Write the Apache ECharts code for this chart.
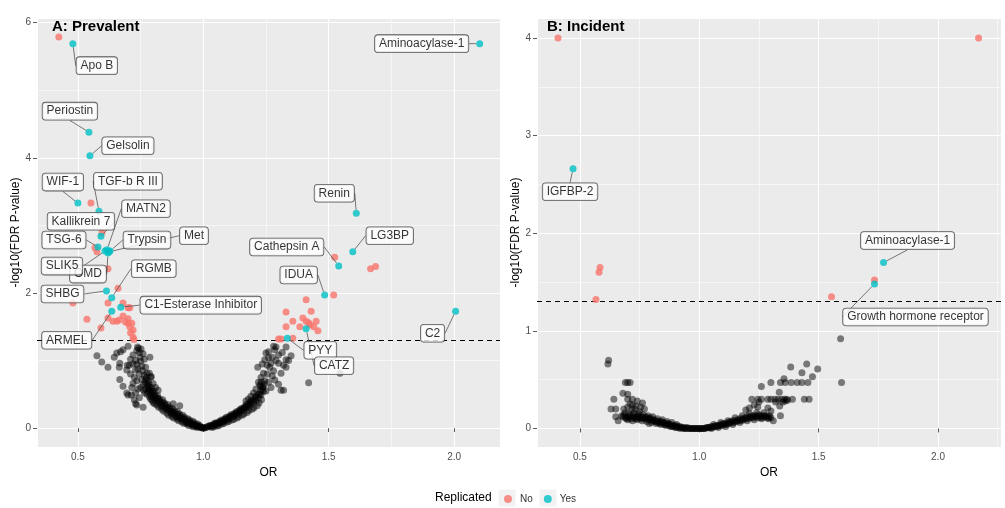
<!DOCTYPE html>
<html><head><meta charset="utf-8">
<script src="https://cdn.jsdelivr.net/npm/echarts/dist/echarts.min.js"></script>
<style>html,body{margin:0;padding:0;background:#fff}#c{width:1005px;height:508px}</style>
</head><body><div id="c"></div><script>
// ---------- Panel A: Prevalent ----------
const aNotSig = [
[1.0,0.0],[0.99,0.01],[0.98,0.02],[0.97,0.04],[0.96,0.05],[0.95,0.06],[0.94,0.08],[0.93,0.1],[0.92,0.12],[0.91,0.14],[0.9,0.16],[0.89,0.19],[0.88,0.21],[0.87,0.24],[0.86,0.27],[0.85,0.3],[0.84,0.33],[0.83,0.36],[0.82,0.39],[0.81,0.42],[0.8,0.46],[0.79,0.5],[0.78,0.54],[0.77,0.58],
[0.985,0.04],[0.965,0.08],[0.945,0.12],[0.925,0.16],[0.905,0.21],[0.885,0.26],[0.865,0.31],[0.845,0.37],[0.825,0.43],[0.805,0.5],[0.795,0.55],[0.785,0.61],
[0.975,0.01],[0.955,0.03],[0.935,0.06],[0.915,0.09],[0.895,0.13],[0.875,0.17],[0.855,0.22],[0.835,0.28],[0.815,0.34],[0.8,0.38],[0.79,0.43],
[0.995,0.0],[0.972,0.03],[0.952,0.07],[0.932,0.08],[0.912,0.15],[0.892,0.17],[0.872,0.22],[0.852,0.28],[0.832,0.32],[0.812,0.45],[0.792,0.47],[0.782,0.58],
[0.998,0.01],[0.988,0.02],[0.978,0.03],[0.968,0.05],[0.958,0.06],[0.948,0.09],[0.938,0.1],[0.928,0.13],[0.918,0.15],[0.908,0.18],[0.898,0.2],[0.888,0.23],[0.878,0.25],[0.868,0.28],[0.858,0.31],[0.848,0.34],[0.838,0.38],[0.828,0.4],[0.818,0.44],[0.808,0.47],[0.798,0.52],[0.788,0.56],[0.778,0.62],[0.768,0.68],
[0.962,0.02],[0.942,0.04],[0.922,0.07],[0.902,0.11],[0.882,0.15],[0.862,0.19],[0.842,0.25],[0.822,0.31],[0.806,0.36],[0.796,0.41],[0.786,0.46],[0.776,0.5],[0.766,0.52],
[0.978,0.06],[0.958,0.1],[0.938,0.14],[0.918,0.19],[0.898,0.24],[0.878,0.29],[0.858,0.35],[0.838,0.42],[0.818,0.48],[0.803,0.55],[0.793,0.6],[0.783,0.66],[0.773,0.75],
[0.775,0.66],[0.77,0.72],[0.765,0.78],[0.76,0.64],[0.758,0.85],[0.755,0.92],[0.75,0.99],[0.748,1.05],[0.745,1.12],[0.742,1.18],[0.738,1.2],[0.735,1.15],[0.752,1.17],[0.76,1.1],[0.765,1.02],[0.735,0.95],[0.74,0.88],[0.745,0.8],[0.73,0.86],[0.725,0.75],[0.735,0.7],[0.72,0.66],[0.73,1.0],[0.72,1.08],[0.755,0.72],[0.78,0.7],[0.785,0.81],[0.77,0.9],[0.762,0.56],[0.75,0.6],[0.74,0.58],[0.73,0.52],[0.715,0.6],[0.71,0.8],[0.705,0.93],[0.7,1.21],[0.695,0.86],[0.697,0.93],[0.68,1.16],[0.67,1.13],[0.655,1.11],[0.645,1.05],[0.62,0.9],[0.595,0.98],[0.576,1.07],[0.667,0.96],[0.665,0.9],[0.667,0.72],[0.695,0.52],[0.713,0.49],[0.7,0.49],[0.73,0.36],[0.735,0.34],[0.76,0.31],[0.787,1.05],[0.775,0.81],[0.79,0.76],[0.793,0.76],[0.88,0.36],[0.906,0.33],[0.82,0.56],[0.81,0.6],[0.8,0.66],[0.72,0.95],[0.71,1.02],[0.745,0.45],[0.725,0.42],[0.68,0.62],
[1.01,0.01],[1.02,0.02],[1.03,0.03],[1.04,0.04],[1.05,0.05],[1.06,0.07],[1.07,0.08],[1.08,0.1],[1.09,0.12],[1.1,0.14],[1.11,0.16],[1.12,0.18],[1.13,0.2],[1.14,0.22],[1.15,0.25],[1.16,0.27],[1.17,0.3],[1.18,0.32],[1.19,0.35],[1.2,0.38],[1.21,0.41],[1.22,0.45],[1.23,0.49],[1.24,0.54],
[1.025,0.04],[1.045,0.07],[1.065,0.1],[1.085,0.14],[1.105,0.18],[1.125,0.22],[1.145,0.27],[1.165,0.32],[1.185,0.37],[1.205,0.43],[1.225,0.5],[1.235,0.57],
[1.035,0.01],[1.055,0.03],[1.075,0.06],[1.095,0.09],[1.115,0.12],[1.135,0.15],[1.155,0.19],[1.175,0.23],[1.195,0.28],[1.215,0.33],
[1.005,0.0],[1.015,0.02],[1.028,0.03],[1.038,0.05],[1.048,0.06],[1.058,0.07],[1.068,0.09],[1.078,0.11],[1.088,0.13],[1.098,0.15],[1.108,0.17],[1.118,0.19],[1.128,0.21],[1.138,0.24],[1.148,0.26],[1.158,0.29],[1.168,0.31],[1.178,0.34],[1.188,0.38],[1.198,0.41],[1.208,0.46],[1.218,0.5],[1.228,0.55],[1.238,0.6],[1.243,0.65],
[1.042,0.02],[1.062,0.04],[1.082,0.07],[1.102,0.1],[1.122,0.13],[1.142,0.17],[1.162,0.21],[1.182,0.26],[1.202,0.3],[1.222,0.37],[1.232,0.42],
[1.052,0.08],[1.072,0.12],[1.092,0.16],[1.112,0.2],[1.132,0.24],[1.152,0.29],[1.172,0.35],[1.192,0.41],[1.212,0.48],[1.228,0.62],[1.232,0.68],
[1.225,0.64],[1.237,0.61],[1.24,0.81],[1.245,0.7],[1.25,1.11],[1.245,1.01],[1.26,1.13],[1.265,0.9],[1.27,0.96],[1.275,1.05],[1.28,1.21],[1.285,1.16],[1.29,1.2],[1.3,1.08],[1.3,0.96],[1.31,0.81],[1.32,0.93],[1.33,1.01],[1.33,0.9],[1.33,1.2],[1.34,1.0],[1.35,1.07],[1.32,0.56],[1.31,0.56],[1.285,0.71],[1.217,0.9],[1.23,0.75],[1.255,0.8],[1.26,0.68],[1.27,0.6],[1.25,0.55],[1.42,0.67],[1.545,0.81],[1.28,0.85],[1.29,1.0],[1.26,1.04],[1.2,0.52],[1.21,0.58],[1.315,1.12],[1.275,0.77],[1.3,0.65],[1.19,0.47],[1.18,0.43],[1.17,0.4],[1.22,0.68],[1.235,0.95],[1.255,0.93]
];
const aNo = [
[0.424,5.79],[0.552,3.33],[0.596,2.89],[0.568,2.67],[0.576,2.61],[0.62,2.36],[0.66,2.07],[0.48,1.85],[0.62,1.85],[0.68,1.85],[0.70,1.78],[0.707,1.78],[0.536,1.61],[0.592,1.48],[0.62,1.63],[0.64,1.58],[0.655,1.58],[0.68,1.66],[0.69,1.57],[0.70,1.55],[0.715,1.55],[0.707,1.5],[0.72,1.45],[0.71,1.41],[0.72,1.35],[0.723,1.31],[0.70,1.62],[0.665,1.6],
[1.524,2.53],[1.667,2.36],[1.687,2.39],[1.52,1.97],[1.41,1.9],[1.33,1.72],[1.43,1.73],[1.357,1.58],[1.397,1.63],[1.41,1.58],[1.45,1.58],[1.33,1.5],[1.385,1.5],[1.425,1.53],[1.44,1.5],[1.457,1.44],[1.30,1.32],[1.31,1.32],[1.357,1.33],[1.42,1.56]
];
const aYesNames = ['Aminoacylase-1','Apo B','Periostin','Gelsolin','WIF-1','TGF-b R III','Kallikrein 7','TSG-6','MATN2','OMD','SLIK5','Trypsin','Met','SHBG','RGMB','C1-Esterase Inhibitor','ARMEL','Renin','LG3BP','Cathepsin A','IDUA','C2','PYY','CATZ'];
const aYes = [[2.102,5.69],[0.48,5.69],[0.544,4.38],[0.548,4.03],[0.5,3.33],[0.584,3.21],[0.592,2.84],[0.58,2.68],[0.616,2.64],[0.62,2.59],[0.608,2.62],[0.628,2.62],[0.624,2.61],[0.614,2.03],[0.635,1.93],[0.671,1.79],[0.635,1.73],[1.61,3.18],[1.596,2.61],[1.54,2.4],[1.484,1.97],[2.006,1.73],[1.335,1.33],[1.41,1.47]];

// ---------- Panel B: Incident ----------
const bNotSig = [
[0.68,0.12],[0.69,0.11],[0.7,0.12],[0.71,0.13],[0.72,0.12],[0.73,0.11],[0.74,0.12],[0.75,0.11],[0.76,0.12],[0.77,0.1],[0.78,0.11],[0.79,0.1],[0.8,0.09],[0.81,0.09],[0.82,0.08],[0.83,0.07],[0.84,0.07],[0.85,0.06],[0.86,0.05],[0.87,0.05],[0.88,0.04],[0.89,0.03],[0.9,0.03],[0.91,0.02],[0.92,0.02],[0.93,0.01],[0.94,0.01],[0.95,0.01],[0.96,0.0],[0.97,0.0],[0.98,0.0],[0.99,0.0],[1.0,0.0],
[0.7,0.09],[0.72,0.08],[0.74,0.09],[0.76,0.08],[0.78,0.07],[0.8,0.06],[0.82,0.05],[0.84,0.04],[0.86,0.03],[0.88,0.02],[0.9,0.01],[0.92,0.0],[0.94,0.0],
[0.705,0.15],[0.725,0.16],[0.745,0.15],[0.765,0.14],[0.785,0.13],[0.805,0.12],[0.825,0.1],[0.845,0.09],[0.865,0.07],[0.885,0.06],[0.905,0.04],
[0.675,0.13],[0.685,0.14],[0.695,0.1],[0.705,0.11],[0.715,0.1],[0.725,0.13],[0.735,0.1],[0.745,0.13],[0.755,0.1],[0.765,0.11],[0.775,0.12],[0.785,0.09],[0.795,0.11],[0.805,0.08],[0.815,0.07],[0.825,0.06],[0.835,0.05],[0.845,0.06],[0.855,0.04],[0.865,0.04],[0.875,0.03],[0.885,0.02],[0.895,0.02],[0.905,0.01],[0.915,0.01],[0.925,0.01],[0.935,0.0],[0.945,0.0],[0.955,0.0],[0.965,0.0],[0.975,0.0],[0.985,0.0],[0.995,0.0],
[0.62,0.70],[0.617,0.66],[0.69,0.47],[0.7,0.47],[0.71,0.47],[0.68,0.36],[0.7,0.35],[0.642,0.30],[0.70,0.30],[0.74,0.28],[0.762,0.26],[0.63,0.2],[0.65,0.2],[0.684,0.2],[0.717,0.19],[0.77,0.2],[0.65,0.12],[0.66,0.08],[0.79,0.05],[0.72,0.24],[0.73,0.2],[0.75,0.17],[0.69,0.16],[0.72,0.3],[0.735,0.23],[0.755,0.22],[0.7,0.22],[0.71,0.25],
[1.01,0.0],[1.02,0.0],[1.03,0.01],[1.04,0.01],[1.05,0.02],[1.06,0.02],[1.07,0.03],[1.08,0.03],[1.09,0.04],[1.1,0.05],[1.11,0.05],[1.12,0.06],[1.13,0.07],[1.14,0.08],[1.15,0.08],[1.16,0.09],[1.17,0.1],[1.18,0.1],[1.19,0.11],[1.2,0.12],[1.21,0.12],[1.22,0.13],[1.23,0.13],[1.24,0.13],[1.25,0.14],[1.26,0.13],[1.27,0.13],[1.28,0.13],[1.29,0.12],
[1.05,0.0],[1.08,0.01],[1.11,0.02],[1.14,0.04],[1.17,0.06],[1.2,0.08],[1.23,0.09],[1.26,0.1],[1.29,0.1],
[1.06,0.04],[1.09,0.06],[1.12,0.08],[1.15,0.11],[1.18,0.13],[1.21,0.15],[1.24,0.16],[1.27,0.16],
[1.005,0.0],[1.015,0.0],[1.025,0.0],[1.035,0.01],[1.045,0.01],[1.055,0.01],[1.065,0.02],[1.075,0.02],[1.085,0.03],[1.095,0.03],[1.105,0.04],[1.115,0.04],[1.125,0.05],[1.135,0.06],[1.145,0.06],[1.155,0.07],[1.165,0.08],[1.175,0.08],[1.185,0.09],[1.195,0.1],[1.205,0.1],[1.215,0.11],[1.225,0.11],[1.235,0.12],[1.245,0.11],[1.255,0.12],[1.265,0.11],[1.275,0.12],[1.285,0.11],[1.295,0.13],[1.3,0.11],
[1.592,0.92],[1.596,0.47],[1.496,0.61],[1.474,0.53],[1.45,0.66],[1.43,0.57],[1.383,0.63],[1.355,0.51],[1.3,0.47],[1.34,0.47],[1.36,0.47],[1.385,0.47],[1.41,0.47],[1.43,0.47],[1.455,0.47],[1.26,0.43],[1.22,0.3],[1.245,0.3],[1.26,0.3],[1.287,0.3],[1.3,0.3],[1.317,0.3],[1.33,0.3],[1.345,0.3],[1.357,0.3],[1.366,0.3],[1.39,0.3],[1.44,0.3],[1.46,0.3],[1.337,0.23],[1.21,0.21],[1.245,0.22],[1.287,0.21],[1.34,0.13],[1.31,0.08],[1.195,0.19],[1.35,0.27],[1.36,0.28],[1.37,0.29],[1.25,0.27],[1.23,0.24],[1.3,0.18],[1.32,0.27],[1.335,0.37]
];
const bNo = [[0.408,4.0],[2.17,4.0],[0.584,1.65],[0.58,1.6],[0.567,1.32],[1.554,1.35],[1.734,1.52]];
const bYesNames = ['IGFBP-2','Aminoacylase-1','Growth hormone receptor'];
const bYes = [[0.471,2.66],[1.772,1.70],[1.734,1.48]];

const fdrThreshold = 1.301;
const aMinorX = [0.75,1.25,1.75], aMinorY = [1,3,5];
const bMinorX = [0.75,1.25,1.75,2.25], bMinorY = [0.5,1.5,2.5,3.5];

// label placement (pixel offsets of label centre from its point)
const aLabelOffsets = {'Aminoacylase-1':[-58,0],'Apo B':[24,22],'Periostin':[-19,-21],'Gelsolin':[38,-10],'WIF-1':[-15,-21],'TGF-b R III':[29,-30],'Kallikrein 7':[-20,-15],'MATN2':[39,-41],'TSG-6':[-34,-7],'Trypsin':[37,-11],'Met':[85,-16],'SLIK5':[-43,15],'OMD':[-20,21],'RGMB':[42,-29],'SHBG':[-44,3],'C1-Esterase Inhibitor':[80,-2],'ARMEL':[-45,29],'Cathepsin A':[-52,-19],'Renin':[-22,-20],'LG3BP':[37,-16],'IDUA':[-26,-20],'C2':[-23,22],'PYY':[33,12],'CATZ':[28,37]};
const bLabelOffsets = {'IGFBP-2':[-3,23],'Aminoacylase-1':[24,-22],'Growth hormone receptor':[41,33]};

const FONT = '"Liberation Sans", Arial, sans-serif';
const RED = '#F8766D', CYAN = '#00BFC4';
const PT = 7;

function axesFor(idx, xmin, xmax, ymin, ymax, ysplit) {
  const common = {
    gridIndex: idx, type: 'value',
    axisLine: {show: false},
    axisTick: {show: true, length: 4, lineStyle: {color: '#333', width: 0.8}},
    splitLine: {show: true, lineStyle: {color: '#fff', width: 1.1}},
    nameLocation: 'middle',
    nameTextStyle: {color: '#000', fontSize: 12, fontFamily: FONT}
  };
  const x = Object.assign({}, common, {
    min: xmin, max: xmax, splitNumber: 4, name: 'OR', nameGap: 17,
    axisLabel: {color: '#4D4D4D', fontSize: 10, fontFamily: FONT, margin: 5, showMinLabel: false, showMaxLabel: false,
      formatter: v => v.toFixed(1)}
  });
  const y = Object.assign({}, common, {
    min: ymin, max: ymax, splitNumber: ysplit, name: '-log10(FDR P-value)', nameGap: 12,
    axisLabel: {color: '#4D4D4D', fontSize: 10, fontFamily: FONT, margin: 6, showMinLabel: false, showMaxLabel: false,
      formatter: v => String(v)}
  });
  return [x, y];
}

function panelSeries(idx, notSig, no, yes, names, offsets, minorX, minorY) {
  const minorStyle = {color: '#fff', width: 0.55, type: 'solid'};
  return [
    {type: 'line', name: 'grid' + idx, xAxisIndex: idx, yAxisIndex: idx, data: [], z: 1, silent: true,
      markLine: {z: 1, silent: true, symbol: 'none', animation: false, label: {show: false},
        data: minorX.map(v => ({xAxis: v, lineStyle: minorStyle}))
          .concat(minorY.map(v => ({yAxis: v, lineStyle: minorStyle})))
          .concat([{yAxis: fdrThreshold, lineStyle: {color: '#000', width: 1, type: [5, 4]}}])}},
    {type: 'scatter', name: 'ns', xAxisIndex: idx, yAxisIndex: idx, data: notSig, symbolSize: PT, silent: true, z: 2,
      itemStyle: {color: 'rgba(0,0,0,0.62)'}},
    {type: 'scatter', name: 'No', xAxisIndex: idx, yAxisIndex: idx, data: no, symbolSize: PT, z: 3,
      itemStyle: {color: RED}},
    {type: 'scatter', name: 'Yes', xAxisIndex: idx, yAxisIndex: idx, z: 4, symbolSize: PT,
      data: yes.map((v, i) => ({name: names[i], value: v})),
      itemStyle: {color: CYAN},
      label: {show: true, formatter: '{b}', position: 'inside', fontFamily: FONT, fontSize: 12, color: '#000',
        backgroundColor: '#fff', borderColor: '#333', borderWidth: 0.8, borderRadius: 3, padding: [3, 4, 2, 4]},
      labelLine: {show: true, lineStyle: {color: '#555', width: 0.8}},
      labelLayout: p => {
        const o = offsets[names[p.dataIndex]] || [0, 0];
        return {x: p.rect.x + p.rect.width / 2 + o[0], y: p.rect.y + p.rect.height / 2 + o[1], align: 'center', verticalAlign: 'middle'};
      }}
  ];
}

const axA = axesFor(0, 0.337, 2.183, -0.28, 6.07, 3);
const axB = axesFor(1, 0.32, 2.264, -0.19, 4.205, 4);

const chart = echarts.init(document.getElementById('c'), null, {renderer: 'canvas'});
chart.setOption({
  animation: false,
  backgroundColor: '#fff',
  textStyle: {fontFamily: FONT},
  title: [
    {text: 'A: Prevalent', left: 47, top: 14, textStyle: {fontSize: 15, fontWeight: 'bold', color: '#000', fontFamily: FONT}},
    {text: 'B: Incident', left: 542, top: 14, textStyle: {fontSize: 15, fontWeight: 'bold', color: '#000', fontFamily: FONT}}
  ],
  grid: [
    {left: 37, top: 18, width: 463, height: 429, show: true, backgroundColor: '#EBEBEB', borderWidth: 0},
    {left: 537, top: 18, width: 464, height: 429, show: true, backgroundColor: '#EBEBEB', borderWidth: 0}
  ],
  xAxis: [axA[0], axB[0]],
  yAxis: [axA[1], axB[1]],
  legend: {data: ['No', 'Yes'], left: 499, top: 489, icon: 'circle', itemWidth: 8, itemHeight: 8, itemGap: 11,
    selectedMode: false, textStyle: {fontSize: 10, color: '#333', fontFamily: FONT, padding: [0, 0, 0, 3]}},
  graphic: [
    {type: 'text', left: 435, top: 492, style: {text: 'Replicated', fontSize: 12, fill: '#000', fontFamily: FONT}},
    {type: 'rect', shape: {x: 498.5, y: 489.5, width: 17, height: 17}, style: {fill: '#F2F2F2'}, z: -1},
    {type: 'rect', shape: {x: 539.5, y: 489.5, width: 17, height: 17}, style: {fill: '#F2F2F2'}, z: -1}
  ],
  series: panelSeries(0, aNotSig, aNo, aYes, aYesNames, aLabelOffsets, aMinorX, aMinorY)
    .concat(panelSeries(1, bNotSig, bNo, bYes, bYesNames, bLabelOffsets, bMinorX, bMinorY))
});
</script></body></html>
